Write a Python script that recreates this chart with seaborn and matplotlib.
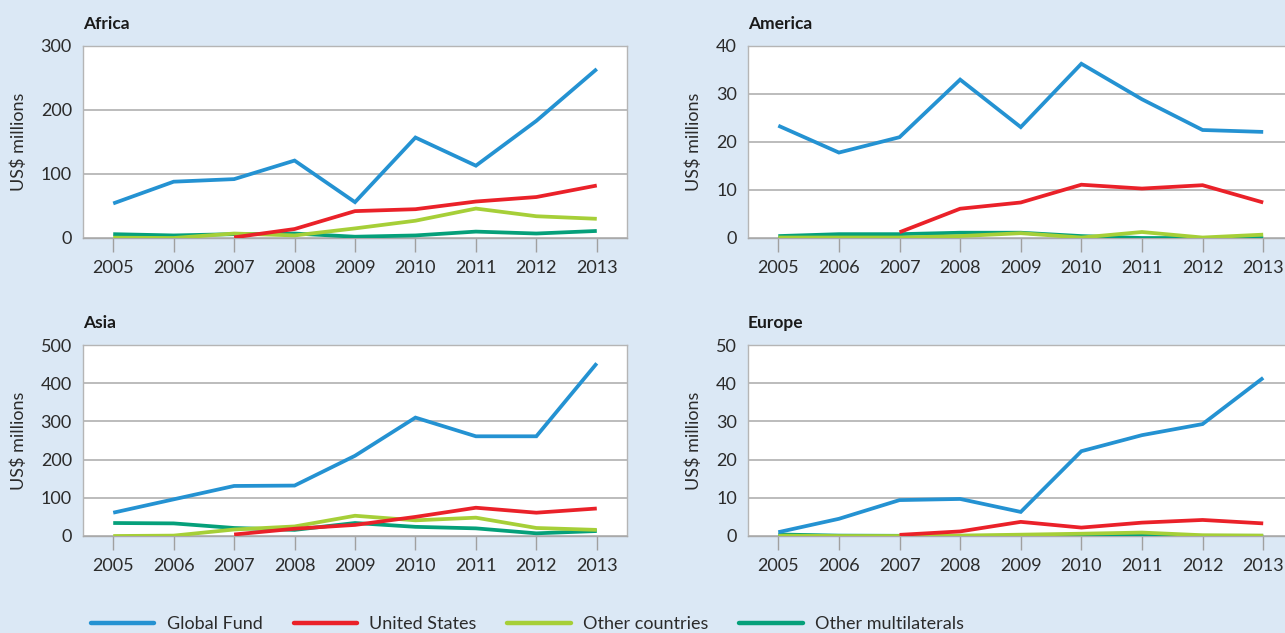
import matplotlib
matplotlib.use("Agg")
import matplotlib.pyplot as plt
import numpy as np
import pandas as pd
import seaborn as sns

years = [2005, 2006, 2007, 2008, 2009, 2010, 2011, 2012, 2013]
series_names = ["Global Fund", "United States", "Other countries", "Other multilaterals"]
nan = np.nan

africa_global_fund = [54, 88, 92, 121, 56, 157, 113, 183, 264]
africa_united_states = [nan, nan, 1, 14, 42, 45, 57, 64, 82]
africa_other_countries = [0.5, 0, 7, 4, 15, 27, 46, 34, 30]
africa_other_multilaterals = [6, 4, 6, 7, 2, 4, 10, 7, 11]

america_global_fund = [23.4, 17.8, 21.0, 33.0, 23.1, 36.3, 28.9, 22.5, 22.1]
america_united_states = [nan, nan, 1.2, 6.1, 7.4, 11.1, 10.3, 11.0, 7.4]
america_other_countries = [0.1, 0.1, 0.1, 0.4, 1.0, 0.1, 1.25, 0.1, 0.7]
america_other_multilaterals = [0.4, 0.8, 0.8, 1.1, 1.1, 0.4, 0.0, 0.0, 0.0]

asia_global_fund = [61, 96, 131, 132, 210, 310, 261, 261, 452]
asia_united_states = [nan, nan, 4, 19, 29, 50, 74, 61, 72]
asia_other_countries = [0, 1, 17, 25, 53, 41, 48, 21, 16]
asia_other_multilaterals = [34, 33, 21, 16, 34, 24, 20, 7, 13]

europe_global_fund = [1.0, 4.5, 9.4, 9.7, 6.3, 22.2, 26.4, 29.3, 41.4]
europe_united_states = [nan, nan, 0.3, 1.2, 3.7, 2.2, 3.5, 4.2, 3.3]
europe_other_countries = [0.1, 0, 0, 0.1, 0.35, 0.6, 0.9, 0.2, 0.1]
europe_other_multilaterals = [0.4, 0.1, 0.05, 0.05, 0.05, 0.05, 0.05, 0.05, 0.05]

regions = {
    "Africa": [africa_global_fund, africa_united_states, africa_other_countries, africa_other_multilaterals],
    "America": [america_global_fund, america_united_states, america_other_countries, america_other_multilaterals],
    "Asia": [asia_global_fund, asia_united_states, asia_other_countries, asia_other_multilaterals],
    "Europe": [europe_global_fund, europe_united_states, europe_other_countries, europe_other_multilaterals],
}
y_limits = {"Africa": (0, 300, 100), "America": (0, 40, 10), "Asia": (0, 500, 100), "Europe": (0, 50, 10)}

palette = {
    "Global Fund": "#2492d2",
    "United States": "#ea2129",
    "Other countries": "#a6cf38",
    "Other multilaterals": "#05a07a",
}
# draw order: teal underneath, then lime, red, blue
draw_order = ["Other multilaterals", "Other countries", "United States", "Global Fund"]

sns.set_theme(style="white")
plt.rcParams["font.family"] = ["Lato", "DejaVu Sans"]

bg = "#dbe8f5"
fig = plt.figure(figsize=(12.85, 6.33), dpi=100, facecolor=bg)

W, H = 1285, 633
positions = {
    "Africa": (83, 46, 627, 238),
    "America": (748, 46, 1293.5, 238),
    "Asia": (83, 345, 627, 536),
    "Europe": (748, 345, 1293.5, 536),
}

grid_col = "#a9a9a9"
text_col = "#2b2b2b"

for region, values in regions.items():
    x0, y0, x1, y1 = positions[region]
    ax = fig.add_axes([x0 / W, 1 - y1 / H, (x1 - x0) / W, (y1 - y0) / H])
    ax.set_facecolor("white")

    frames = []
    for name, vals in zip(series_names, values):
        frames.append(pd.DataFrame({"year": years, "value": vals, "series": name}))
    df = pd.concat(frames, ignore_index=True).dropna()

    for name in draw_order:
        sub = df[df["series"] == name]
        sns.lineplot(data=sub, x="year", y="value", color=palette[name],
                     linewidth=2.7, ax=ax, label=name, legend=False,
                     solid_capstyle="butt", solid_joinstyle="miter", zorder=3)

    lo, hi, step = y_limits[region]
    ax.set_ylim(lo, hi)
    ax.set_yticks(np.arange(lo, hi + step / 2, step))
    ax.set_xlim(2004.5, 2013.5)
    ax.set_xticks(years)
    ax.set_xticklabels([str(y) for y in years])
    ax.yaxis.grid(True, color=grid_col, linewidth=1.1, zorder=0)
    ax.set_axisbelow(True)
    for s in ax.spines.values():
        s.set_color("#b5b5b5")
        s.set_linewidth(1.0)
    ax.spines["bottom"].set_color(grid_col)
    ax.tick_params(axis="x", length=10, width=1.0, color="#a0a0a0", direction="out",
                   pad=6, labelsize=13, labelcolor=text_col, bottom=True)
    ax.tick_params(axis="y", length=0, pad=8, labelsize=13, labelcolor=text_col)
    ax.set_xlabel("")
    ax.set_ylabel("US$ millions", fontsize=13, color=text_col, labelpad=10)
    ax.set_title(region, loc="left", fontsize=12.5, fontweight="bold", color="#1a1a1a", pad=12)

handles = [plt.Line2D([], [], color=palette[n], linewidth=3.2) for n in series_names]
fig.legend(handles, series_names, loc="center left", bbox_to_anchor=(75 / W, 1 - 624 / H),
           ncol=4, frameon=False, fontsize=13, handlelength=3.5, handletextpad=0.7,
           columnspacing=1.7, labelcolor=text_col)

fig.savefig("out.png", dpi=100, facecolor=bg)
